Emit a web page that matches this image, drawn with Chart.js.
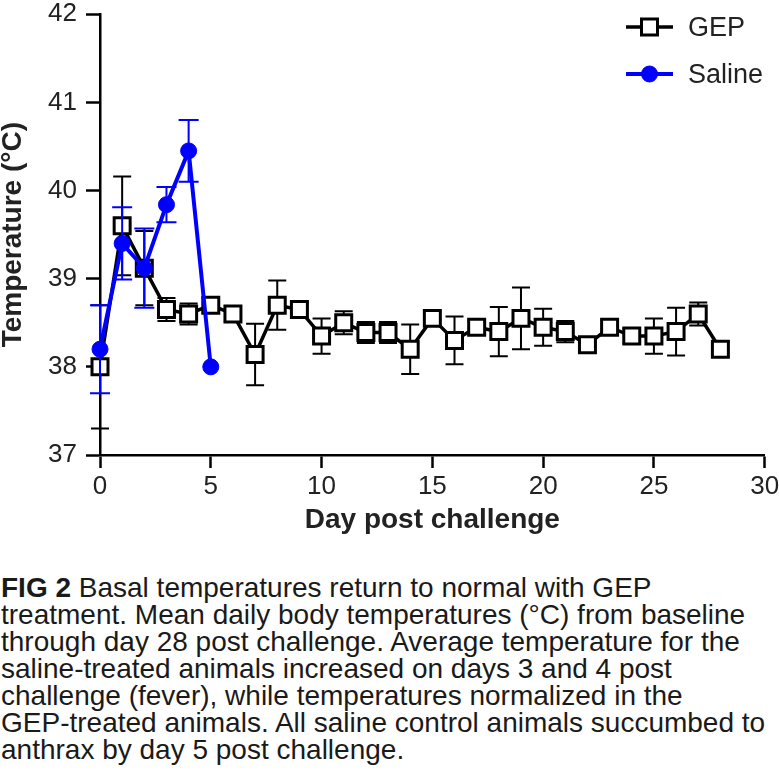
<!DOCTYPE html>
<html>
<head>
<meta charset="utf-8">
<script src="https://cdn.jsdelivr.net/npm/chart.js@4.4.1/dist/chart.umd.min.js"></script>
<style>
  html, body { margin: 0; padding: 0; background: #fff; }
  #wrap { position: relative; width: 779px; height: 771px; overflow: hidden; }
  #c { position: absolute; left: 0; top: 0; }
  #cap { position: absolute; left: 1px; top: 573.5px; width: 778px;
         font-family: "Liberation Sans", Arial, sans-serif; font-size: 28px;
         line-height: 27px; color: #1a1a1a; white-space: nowrap; }
</style>
</head>
<body>
<div id="wrap">
  <canvas id="c" width="779" height="545"></canvas>
  <div id="cap"><b>FIG 2</b> Basal temperatures return to normal with GEP<br>treatment. Mean daily body temperatures (°C) from baseline<br>through day 28 post challenge. Average temperature for the<br>saline-treated animals increased on days 3 and 4 post<br>challenge (fever), while temperatures normalized in the<br>GEP-treated animals. All saline control animals succumbed to<br>anthrax by day 5 post challenge.</div>
</div>
<script>
// ---- data ----
const gepDays = [0,1,2,3,4,5,6,7,8,9,10,11,12,13,14,15,16,17,18,19,20,21,22,23,24,25,26,27,28];
const gepTemp = [38.0,39.6,39.12,38.65,38.6,38.7,38.6,38.14,38.7,38.65,38.35,38.5,38.39,38.39,38.2,38.55,38.3,38.45,38.4,38.55,38.45,38.4,38.25,38.45,38.35,38.35,38.4,38.6,38.2];
const gepErr  = [0.7,0.56,0.42,0.13,0.12,0.08,0.08,0.35,0.28,0.08,0.2,0.13,0.12,0.12,0.28,0.08,0.27,0.08,0.28,0.35,0.21,0.12,0.08,0.08,0.08,0.2,0.27,0.13,0.08];
const salDays = [0,1,2,3,4,5];
const salTemp = [38.2,39.4,39.12,39.84,40.45,38.0];
const salErr  = [0.5,0.41,0.45,0.2,0.35,0];
const seriesNames = ['GEP','Saline'];
const xTicks = [0,5,10,15,20,25,30];
const yTicks = [37,38,39,40,41,42];
const xTitle = 'Day post challenge';
const yTitle = 'Temperature (°C)';

const BLUE = '#0000ff';
const FONT = '"Liberation Sans", Arial, sans-serif';

const toPts = (xs, ys) => xs.map((x, i) => ({x: x, y: ys[i]}));

const errorBars = {
  id: 'errorBars',
  beforeDatasetDraw(chart, args) {
    const ds = chart.data.datasets[args.index];
    if (!ds.err) return;
    const ctx = chart.ctx, xs = chart.scales.x, ys = chart.scales.y;
    ctx.save();
    ctx.strokeStyle = ds.errColor;
    ctx.lineWidth = 2;
    ds.data.forEach((p, i) => {
      const e = ds.err[i];
      if (!e) return;
      const px = xs.getPixelForValue(p.x);
      const top = ys.getPixelForValue(p.y + e);
      const bot = ys.getPixelForValue(p.y - e);
      const hw = ds.capHalf;
      ctx.beginPath();
      ctx.moveTo(px, top); ctx.lineTo(px, bot);
      ctx.moveTo(px - hw, top); ctx.lineTo(px + hw, top);
      ctx.moveTo(px - hw, bot); ctx.lineTo(px + hw, bot);
      ctx.stroke();
    });
    ctx.restore();
  }
};

const customLegend = {
  id: 'customLegend',
  afterDraw(chart) {
    const ctx = chart.ctx;
    const items = [
      {ds: chart.data.datasets[1], y: 27},
      {ds: chart.data.datasets[0], y: 74}
    ];
    items.forEach(it => {
      const ds = it.ds;
      const cx = 649.5;
      ctx.save();
      ctx.strokeStyle = ds.borderColor;
      ctx.lineWidth = ds.borderWidth;
      ctx.beginPath();
      ctx.moveTo(626, it.y); ctx.lineTo(673, it.y);
      ctx.stroke();
      ctx.fillStyle = ds.pointBackgroundColor;
      ctx.strokeStyle = ds.pointBorderColor;
      ctx.lineWidth = ds.pointBorderWidth;
      ctx.beginPath();
      if (ds.pointStyle === 'rect') {
        const s = ds.pointRadius * Math.SQRT1_2;
        ctx.rect(cx - s, it.y - s, 2 * s, 2 * s);
      } else {
        ctx.arc(cx, it.y, ds.pointRadius, 0, Math.PI * 2);
      }
      ctx.fill(); ctx.stroke();
      ctx.fillStyle = '#222';
      ctx.font = '27px ' + FONT;
      ctx.textBaseline = 'middle';
      ctx.textAlign = 'left';
      ctx.fillText(ds.label, 688, it.y + 2);
      ctx.restore();
    });
  }
};

new Chart(document.getElementById('c'), {
  type: 'line',
  data: {
    datasets: [
      {
        label: seriesNames[1],
        data: toPts(salDays, salTemp),
        err: salErr, errColor: BLUE, capHalf: 10,
        borderColor: BLUE, borderWidth: 4,
        pointStyle: 'circle', pointRadius: 8, pointBorderWidth: 1,
        pointBackgroundColor: BLUE, pointBorderColor: BLUE,
        tension: 0, order: 0, clip: false
      },
      {
        label: seriesNames[0],
        data: toPts(gepDays, gepTemp),
        err: gepErr, errColor: '#000', capHalf: 9,
        borderColor: '#000', borderWidth: 3.5,
        pointStyle: 'rect', pointRadius: 11.3, pointBorderWidth: 3,
        pointBackgroundColor: '#fff', pointBorderColor: '#000',
        tension: 0, order: 1, clip: false
      }
    ]
  },
  options: {
    responsive: false,
    animation: false,
    events: [],
    layout: { padding: { top: 11, right: 14, left: 0, bottom: 0 } },
    plugins: { legend: { display: false }, tooltip: { enabled: false } },
    scales: {
      x: {
        type: 'linear', min: 0, max: 30,
        afterBuildTicks: s => { s.ticks = xTicks.map(v => ({value: v})); },
        afterFit: s => { s.height = 90; s.paddingLeft = 0; s.paddingRight = 0; },
        border: { display: true, color: '#000', width: 2.5 },
        grid: { drawOnChartArea: false, drawTicks: true, tickLength: 13, tickWidth: 2.5, tickColor: '#000' },
        ticks: { color: '#222', font: { family: FONT, size: 26 }, padding: 3, maxRotation: 0 },
        title: { display: true, text: xTitle, color: '#222',
                 font: { family: FONT, size: 28, weight: 'bold' }, padding: { top: 0, bottom: 8 } }
      },
      y: {
        type: 'linear', min: 37, max: 42,
        afterBuildTicks: s => { s.ticks = yTicks.map(v => ({value: v})); },
        afterFit: s => { s.width = 100; s.paddingTop = 0; s.paddingBottom = 0; },
        border: { display: true, color: '#000', width: 2.5 },
        grid: { drawOnChartArea: false, drawTicks: true, tickLength: 14, tickWidth: 2.5, tickColor: '#000' },
        ticks: { color: '#222', font: { family: FONT, size: 26 }, padding: 9 },
        title: { display: true, text: yTitle, color: '#222',
                 font: { family: FONT, size: 28, weight: 'bold', lineHeight: 0.93 }, padding: { top: 0, bottom: 0 } }
      }
    }
  },
  plugins: [errorBars, customLegend]
});
</script>
</body>
</html>
